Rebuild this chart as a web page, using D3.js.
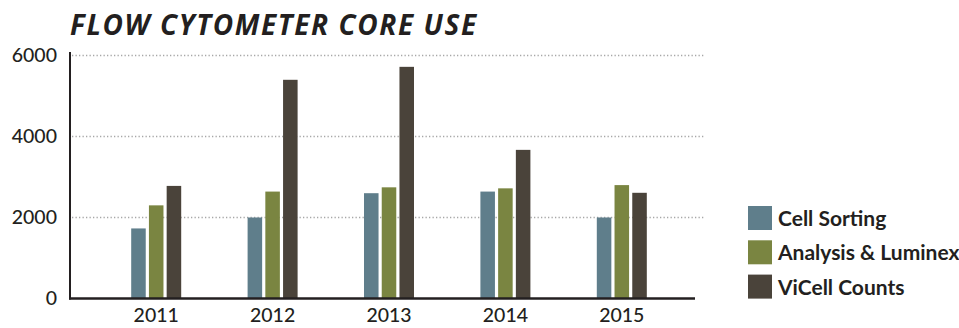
<!DOCTYPE html>
<html>
<head>
<meta charset="utf-8">
<script src="https://cdn.jsdelivr.net/npm/d3@7"></script>
<style>
  body { margin: 0; background: #fff; }
  text { font-family: Lato, "Open Sans", sans-serif; fill: #231f20; }
</style>
</head>
<body>
<svg id="chart" width="959" height="328"></svg>
<script>
var years = ["2011", "2012", "2013", "2014", "2015"];
var seriesNames = ["Cell Sorting", "Analysis & Luminex", "ViCell Counts"];
var cellSorting = [1730, 2000, 2600, 2640, 2000];
var analysisLuminex = [2300, 2640, 2745, 2720, 2800];
var viCellCounts = [2780, 5400, 5720, 3670, 2610];
var yTicks = [0, 2000, 4000, 6000];
var colors = ["#5f7e8b", "#7a8541", "#4a433a"];

var series = [cellSorting, analysisLuminex, viCellCounts];
var data = years.map(function(yr, i) {
	return {year: yr, values: series.map(function(s, k) { return {key: seriesNames[k], value: s[i]}; })};
});

var svg = d3.select("#chart");

var x = d3.scaleBand()
	.domain(years)
	.range([98, 680]);

var sub = d3.scaleBand()
	.domain(seriesNames)
	.range([x.bandwidth() / 2 - 25, x.bandwidth() / 2 + 25])
	.paddingInner(0.18);

var y = d3.scaleLinear()
	.domain([0, 6000])
	.range([298.5, 55.5]);

var color = d3.scaleOrdinal().domain(seriesNames).range(colors);

// title
svg.append("text")
	.attr("x", 70)
	.attr("y", 35)
	.style("font-family", "'Open Sans', sans-serif")
	.style("font-weight", "700")
	.style("font-style", "italic")
	.style("font-size", "28px")
	.style("letter-spacing", "1.6px")
	.text("FLOW CYTOMETER CORE USE");

// dotted gridlines
svg.append("g")
	.selectAll("line")
	.data(yTicks.filter(d => d > 0))
	.enter().append("line")
	.attr("x1", 72)
	.attr("x2", 704)
	.attr("y1", d => y(d))
	.attr("y2", d => y(d))
	.attr("stroke", "#a7a7a7")
	.attr("stroke-width", 1.3)
	.attr("stroke-dasharray", "1.3,2.2");

// y axis
var yAxis = svg.append("g")
	.attr("transform", "translate(70,0)")
	.call(d3.axisLeft(y).tickValues(yTicks).tickSize(0).tickPadding(13).tickFormat(d3.format("d")));
yAxis.select(".domain").attr("stroke", "#231f20").attr("stroke-width", 2).attr("d", "M0," + (y(0) + 1) + "V52");
yAxis.selectAll("text")
	.style("font-family", "Lato, sans-serif")
	.style("font-size", "19.5px")
	.style("font-weight", "500")
	.attr("fill", "#231f20");

// bars
var group = svg.append("g")
	.selectAll("g.year")
	.data(data)
	.enter().append("g")
	.attr("class", "year")
	.attr("transform", d => "translate(" + x(d.year) + ",0)");

group.selectAll("rect")
	.data(d => d.values)
	.enter().append("rect")
	.attr("x", d => sub(d.key))
	.attr("width", sub.bandwidth())
	.attr("y", d => y(d.value))
	.attr("height", d => y(0) - y(d.value))
	.attr("fill", d => color(d.key));

// x axis
var xAxis = svg.append("g")
	.attr("transform", "translate(0," + y(0) + ")")
	.call(d3.axisBottom(x).tickSize(0).tickPadding(10));
xAxis.select(".domain").attr("stroke", "#231f20").attr("stroke-width", 2.5).attr("d", "M69,0H695");
xAxis.selectAll("text")
	.style("font-family", "Lato, sans-serif")
	.style("font-size", "19.5px")
	.style("font-weight", "500")
	.attr("fill", "#231f20");

// legend
var legend = svg.append("g")
	.selectAll("g")
	.data(seriesNames)
	.enter().append("g")
	.attr("transform", (d, i) => "translate(748," + (206 + i * 34.3) + ")");

legend.append("rect")
	.attr("width", 24)
	.attr("height", 24)
	.attr("fill", d => color(d));

legend.append("text")
	.attr("x", 30)
	.attr("y", 20)
	.style("font-size", "21px")
	.style("font-weight", "700")
	.text(d => d);
</script>
</body>
</html>
